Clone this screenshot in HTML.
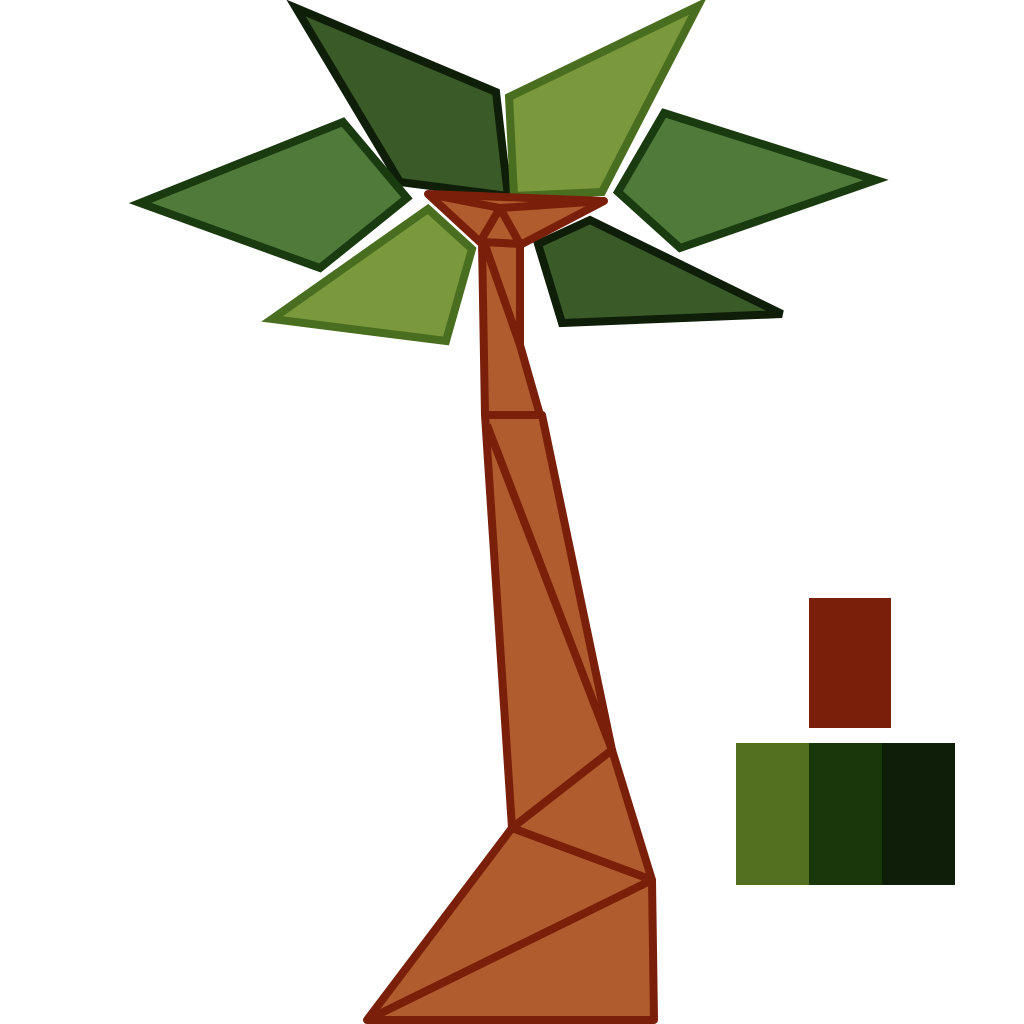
<!DOCTYPE html>
<html><head><meta charset="utf-8"><style>html,body{margin:0;padding:0;background:#fff}svg{display:block}</style></head>
<body>
<svg width="1024" height="1024" viewBox="0 0 1024 1024">
<g stroke-linejoin="miter" stroke-width="8">
<polygon points="296,8 496,92 508,196 400,182" fill="#3a5a28" stroke="#0e1e08"/>
<polygon points="509,97 698,6 602,192 514,196" fill="#7a983c" stroke="#4a6e20"/>
<polygon points="140,203 343,122 407,198 320,268" fill="#4f7a3a" stroke="#1a3a10"/>
<polygon points="664,113 876,180 680,248 618,192" fill="#4f7a3a" stroke="#1a3a10"/>
<polygon points="272,319 428,209 472,249 446,341" fill="#7a983c" stroke="#4a6e20"/>
<polygon points="538,244 590,220 782,314 562,323" fill="#3a5a28" stroke="#0e1e08"/>
</g>
<g fill="#b05c2e" stroke="#7a200a" stroke-width="8" stroke-linejoin="round">
<polygon points="428,194 604,201 522,244 480,242"/>
<polygon points="482,242 520,244 520,345 540,415 485,415"/>
<polygon points="485,415 542,415 612,750 512,828"/>
<polygon points="512,828 612,750 652,880"/>
<polygon points="367,1020 512,828 652,880 654,1020"/>
<g fill="none">
<line x1="367" y1="1020" x2="652" y2="880"/>
<line x1="487" y1="425" x2="612" y2="750"/>
<line x1="485" y1="245" x2="520" y2="345"/>
<polyline points="480,242 500,208 520,244"/>
<line x1="428" y1="194" x2="500" y2="208"/>
<line x1="500" y1="208" x2="604" y2="201"/>
</g>
</g>
<g>
<rect x="809" y="598" width="82" height="130" fill="#7a200a"/>
<rect x="736" y="743" width="73" height="142" fill="#527020"/>
<rect x="809" y="743" width="73" height="142" fill="#1a370c"/>
<rect x="882" y="743" width="73" height="142" fill="#0e1e08"/>
</g>
</svg>
</body></html>
